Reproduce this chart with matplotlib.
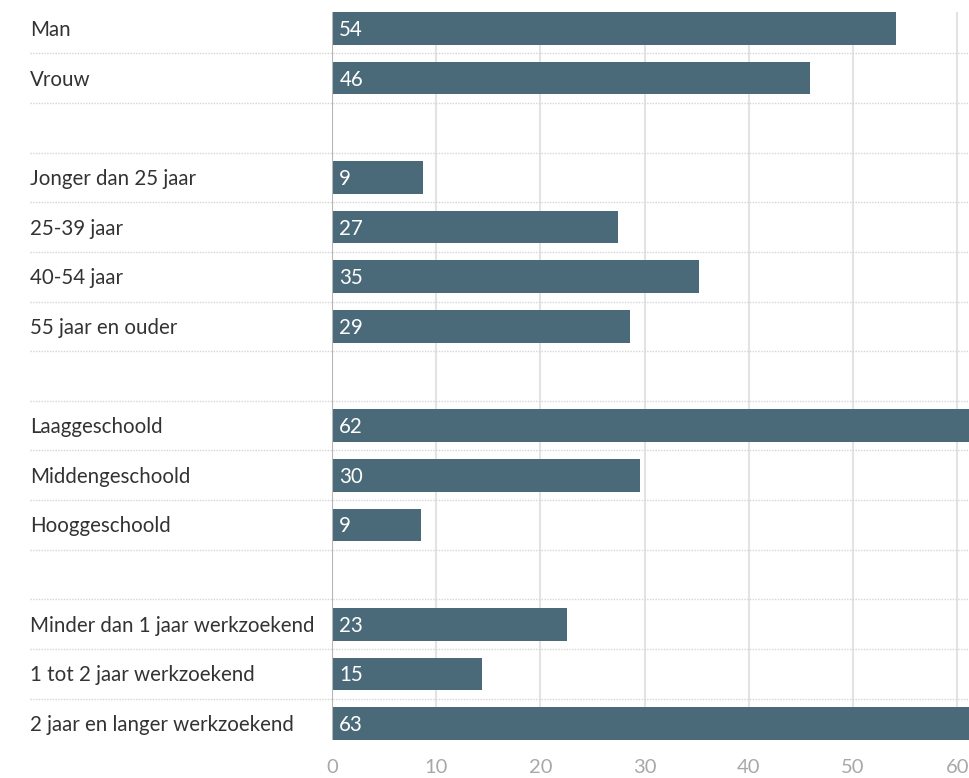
import matplotlib
matplotlib.use('Agg')
import matplotlib.pyplot as plt


# rows from top to bottom, '' marks an empty spacer row
categories = ['Man', 'Vrouw', '',
              'Jonger dan 25 jaar', '25-39 jaar', '40-54 jaar', '55 jaar en ouder', '',
              'Laaggeschoold', 'Middengeschoold', 'Hooggeschoold', '',
              'Minder dan 1 jaar werkzoekend', '1 tot 2 jaar werkzoekend',
              '2 jaar en langer werkzoekend']
values = [54.1, 45.9, None,
          8.7, 27.4, 35.2, 28.6, None,
          61.9, 29.6, 8.5, None,
          22.6, 14.4, 62.9]
value_labels = ['54', '46', '',
                '9', '27', '35', '29', '',
                '62', '30', '9', '',
                '23', '15', '63']
xticks = [0, 10, 20, 30, 40, 50, 60]

bar_color = '#4b6a79'
plt.rcParams['font.family'] = ['Lato', 'DejaVu Sans']

W, H = 970, 778
fig = plt.figure(figsize=(W / 100, H / 100), dpi=100)
ax = fig.add_axes([332 / W, 38 / H, 638 / W, 728 / H])

n = len(categories)
bh = 0.66
for i, (cat, v, lab) in enumerate(zip(categories, values, value_labels)):
    if v is not None:
        ax.barh(i, v, height=bh, color=bar_color, zorder=3)
        ax.text(0.7, i + 0.03, lab, color='white', fontsize=14.8, va='center', ha='left', zorder=4)
    if cat:
        ax.text(-302 / 10.42, i + 0.03, cat, color='#333333', fontsize=14.8, va='center', ha='left')

ax.set_xlim(0, 638 / 10.42)
ax.set_ylim(n - 1 + bh / 2, -bh / 2)

# dotted separators between rows, running under the labels
for i in range(n - 1):
    ax.axhline(i + 0.5, xmin=-302 / 638, xmax=1, color='#d5d5d5', lw=1,
               ls=(0, (1, 1)), clip_on=False, zorder=1)

for x in xticks[1:]:
    ax.axvline(x, color='#e3e3e3', lw=1.5, zorder=0)
ax.axvline(0, color='#b5b5b5', lw=1.5, zorder=5)

ax.set_xticks(xticks)
ax.set_xticklabels([str(t) for t in xticks])
ax.tick_params(axis='x', length=0, pad=14, labelsize=14.5, labelcolor='#a8a8a8')
ax.set_yticks([])
for s in ax.spines.values():
    s.set_visible(False)

fig.savefig('out.png', dpi=100)
